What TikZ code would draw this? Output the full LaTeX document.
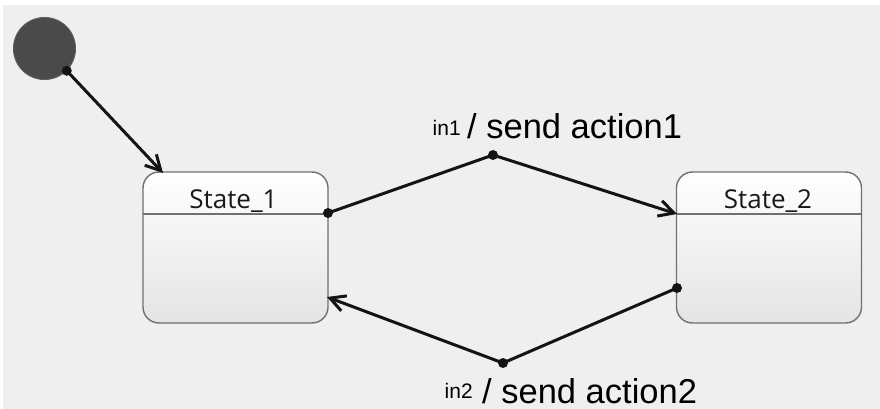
\documentclass[tikz,border=0pt]{standalone}
\usepackage{fontspec}
\setmainfont{Liberation Sans}
\newfontfamily\statefont{Open Sans}
\usetikzlibrary{arrows.meta}
\definecolor{bgc}{HTML}{EFEFEF}
\definecolor{initc}{HTML}{4A4A4A}
\definecolor{initb}{HTML}{5C5C5C}
\definecolor{boxb}{HTML}{707070}
\definecolor{boxbot}{HTML}{E4E4E4}
\definecolor{linec}{HTML}{141414}
\tikzset{
  statebox/.style={draw=boxb, line width=1.4pt, rounded corners=16pt,
    minimum width=185pt, minimum height=151pt, top color=white, bottom color=boxbot,
    inner sep=0pt},
  statename/.style={font=\statefont\fontsize{26}{26}\selectfont, anchor=base, inner sep=0pt, text=black!90},
  hdr/.style={draw=boxb, line width=1.4pt},
  conn/.style={draw=linec, line width=3pt},
  arr/.style={conn, -{Straight Barb[length=15pt,width=16pt,line width=3pt]}},
  jdot/.style={circle, fill=linec, inner sep=0pt, minimum size=10pt},
  lbl/.style={anchor=base west, inner sep=0pt, text=black},
}
\begin{document}
\begin{tikzpicture}[x=1pt,y=-1pt]
\useasboundingbox (0,0) rectangle (880,409);
\fill[white] (0,0) rectangle (880,409);
\fill[bgc] (3,5) rectangle (880,409);

% initial state
\node[circle, fill=initc, draw=initb, line width=1pt, minimum size=62pt, inner sep=0pt] (init) at (44.5,48.5) {};

% states
\node[statebox] (s1) at (235.5,247.5) {};
\node[statebox] (s2) at (769,247.5) {};
\draw[hdr] (143,214) -- (328,214);
\draw[hdr] (677,214) -- (861,214);
\node[statename] (t1) at (233.5,208) {State\_1};
\node[statename] (t2) at (768,208) {State\_2};

% junction points
\coordinate (a1) at (init.-45);
\coordinate (e1) at (163,173);
\coordinate (o1) at (328,213);
\coordinate (m1) at (493,155);
\coordinate (e2) at (677,214);
\coordinate (o2) at (677,288);
\coordinate (m2) at (503,363);
\coordinate (e3) at (327,297);

\draw[arr] (a1) -- (e1);
\draw[conn] (o1) -- (m1);
\draw[arr] (m1) -- (e2);
\draw[conn] (o2) -- (m2);
\draw[arr] (m2) -- (e3);

\node[jdot] (d0) at (a1) {};
\node[jdot] (d1) at (o1) {};
\node[jdot] (d2) at (m1) {};
\node[jdot] (d3) at (o2) {};
\node[jdot] (d4) at (m2) {};

% labels
\node[lbl] (l1a) at (432.5,135.5) {\fontsize{21}{21}\selectfont in1};
\node[lbl] (l1b) at (467,138.5) {\fontsize{34.5}{34.5}\selectfont / send action1};
\node[lbl] (l2a) at (444.5,398.5) {\fontsize{21}{21}\selectfont in2};
\node[lbl] (l2b) at (482,403) {\fontsize{34.5}{34.5}\selectfont / send action2};
\end{tikzpicture}
\end{document}
